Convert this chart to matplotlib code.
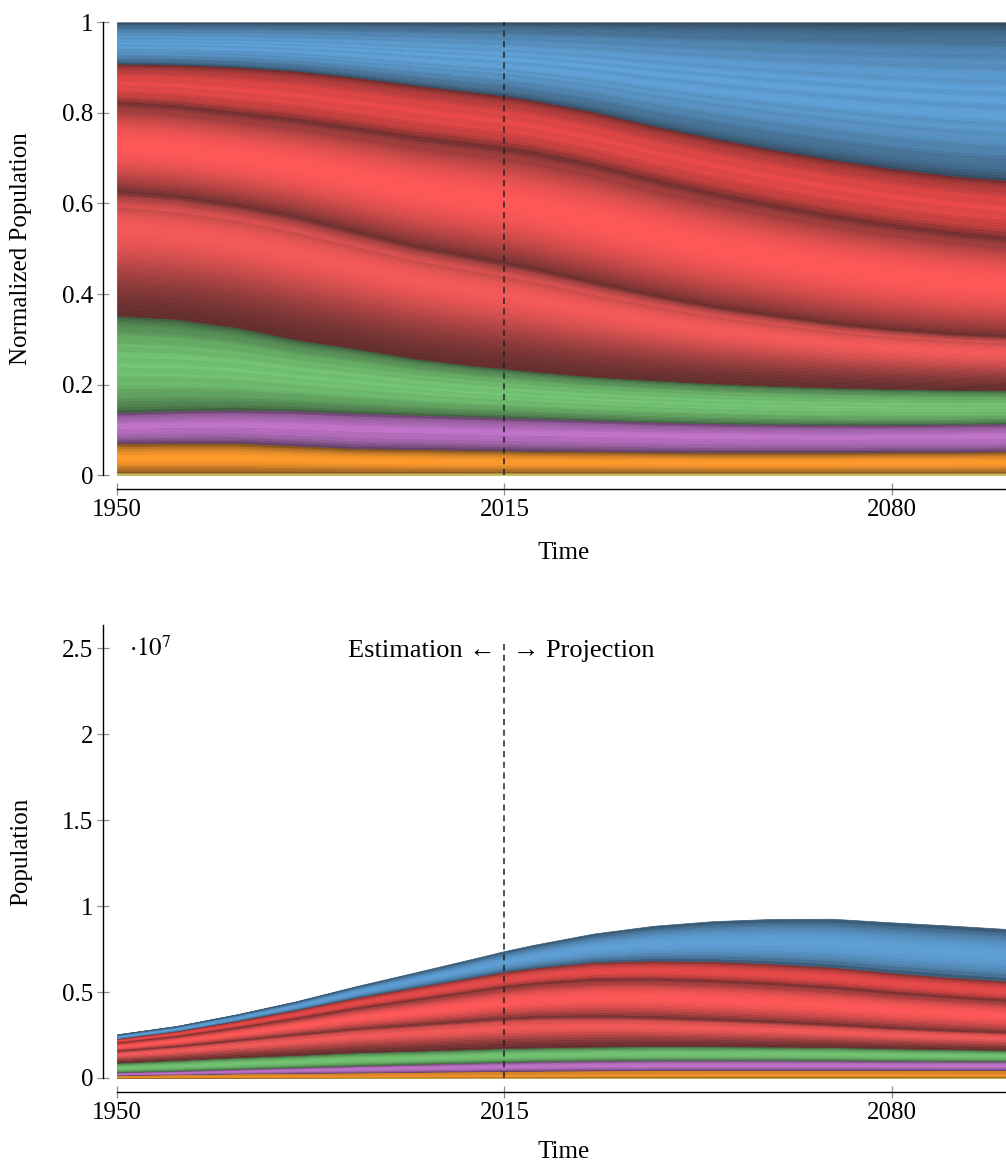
import numpy as np
import matplotlib
matplotlib.use('Agg')
import matplotlib.pyplot as plt
from matplotlib.colors import to_rgb
from matplotlib.ticker import FuncFormatter

plt.rcParams['font.family'] = ['Liberation Serif', 'DejaVu Serif']
plt.rcParams['mathtext.fontset'] = 'stix'

# years
years = np.array([1950, 1960, 1970, 1980, 1990, 2000, 2010, 2015, 2020,
                  2030, 2040, 2050, 2060, 2070, 2080, 2090, 2100])

total_pop = np.array([2540000, 3030000, 3700000, 4460000, 5330000, 6140000,
                      6960000, 7380000, 7750000, 8400000, 8850000, 9120000,
                      9250000, 9260000, 9050000, 8860000, 8650000])

# cumulative region boundaries (normalized), bottom -> top
b_yellow = np.array([0.006, 0.006, 0.006, 0.006, 0.006, 0.006, 0.006, 0.006, 0.006,
                     0.006, 0.006, 0.006, 0.006, 0.006, 0.006, 0.006, 0.006])
b_orange = np.array([0.071, 0.072, 0.072, 0.066, 0.060, 0.058, 0.056, 0.055, 0.054,
                     0.053, 0.052, 0.051, 0.051, 0.051, 0.052, 0.052, 0.053])
b_purple = np.array([0.139, 0.143, 0.145, 0.143, 0.138, 0.134, 0.130, 0.128, 0.126,
                     0.122, 0.118, 0.115, 0.113, 0.112, 0.112, 0.113, 0.115])
b_green = np.array([0.353, 0.345, 0.327, 0.300, 0.280, 0.258, 0.242, 0.236, 0.229,
                    0.218, 0.210, 0.203, 0.198, 0.194, 0.191, 0.189, 0.188])
b_red_b = np.array([0.626, 0.615, 0.596, 0.570, 0.537, 0.505, 0.480, 0.468, 0.455,
                    0.425, 0.397, 0.372, 0.353, 0.335, 0.322, 0.312, 0.306])
b_red_a = np.array([0.823, 0.815, 0.800, 0.785, 0.766, 0.746, 0.730, 0.722, 0.712,
                    0.685, 0.652, 0.622, 0.596, 0.572, 0.552, 0.535, 0.522])
b_red_top = np.array([0.909, 0.907, 0.902, 0.893, 0.879, 0.862, 0.846, 0.838, 0.828,
                      0.803, 0.772, 0.745, 0.720, 0.698, 0.678, 0.662, 0.651])
b_blue = np.ones(len(years))

# shares of the stripes inside each group, bottom -> top
shares_yellow = [1.0]
shares_orange = [0.12, 0.88]
shares_purple = [0.12, 0.1, 0.18, 0.35, 0.25]
shares_green = [0.12, 0.1, 0.14, 0.08, 0.1, 0.12, 0.08, 0.1, 0.16]
shares_red_b = [0.88, 0.05, 0.07]
shares_red_a = [0.92, 0.08]
shares_red_top = [0.08, 0.2, 0.15, 0.18, 0.17, 0.22]
shares_blue = [0.14, 0.06, 0.1, 0.05, 0.12, 0.08, 0.07, 0.1, 0.06, 0.09, 0.13]

# (lower, upper, colour, stripe shares, brightest point of the group)
groups = [
    (np.zeros(len(years)), b_yellow, '#dccf55', shares_yellow, 0.5),
    (b_yellow, b_orange, '#ff9a2a', shares_orange, 0.5),
    (b_orange, b_purple, '#c274cc', shares_purple, 0.55),
    (b_purple, b_green, '#74c874', shares_green, 0.5),
    (b_green, b_red_b, '#ff5a5a', shares_red_b, 0.75),
    (b_red_b, b_red_a, '#ff5656', shares_red_a, 0.55),
    (b_red_a, b_red_top, '#ec4848', shares_red_top, 0.5),
    (b_red_top, b_blue, '#5fa2da', shares_blue, 0.5),
]


def shade(base, s):
    c = np.array(to_rgb(base))
    dark = c * 0.33 + 0.06
    return tuple(dark + (c - dark) * s)


def draw_stack(ax, scale, px_per_unit):
    for lo, hi, col, shares, peak in groups:
        gam = np.log(0.5) / np.log(peak)
        cum = np.concatenate([[0], np.cumsum(shares) / np.sum(shares)])
        for k in range(len(shares)):
            b0 = lo + (hi - lo) * cum[k]
            b1 = lo + (hi - lo) * cum[k + 1]
            thick = np.max((b1 - b0) * scale) * px_per_unit
            nsub = int(np.clip(thick / 2.5, 2, 45))
            for j in range(nsub):
                t0, t1 = j / nsub, (j + 1) / nsub
                ts = (j + 0.5) / nsub
                tg = cum[k] + (cum[k + 1] - cum[k]) * ts
                sg = np.sin(np.pi * tg ** gam) ** 0.6
                ss = np.sin(np.pi * ts) ** 0.3
                c = shade(col, sg * (0.6 + 0.4 * ss))
                ax.fill_between(years, (b0 + (b1 - b0) * t0) * scale,
                                (b0 + (b1 - b0) * t1) * scale,
                                facecolor=c, edgecolor=c, lw=0.5)


def style(ax):
    for side in ['top', 'right']:
        ax.spines[side].set_visible(False)
    for side in ['left', 'bottom']:
        ax.spines[side].set_position(('outward', 10))
        ax.spines[side].set_linewidth(1.0)
    ax.tick_params(direction='inout', length=8, width=0.9, color='#8c8c8c',
                   labelcolor='black', labelsize=18, pad=3)
    ax.set_xlim(1950, 2100)
    ax.set_xticks([1950, 2015, 2080])
    ax.set_xlabel('Time', fontsize=18)
    ax.yaxis.set_label_coords(-0.095, 0.5)


W, H = 1006, 1167
fig = plt.figure(figsize=(W / 100, H / 100), dpi=100)

ax1 = fig.add_axes([117 / W, 1 - 475.3 / H, 894 / W, 453 / H])
draw_stack(ax1, 1.0, 453.0)
style(ax1)
ax1.set_ylim(0, 1)
ax1.set_yticks([0, 0.2, 0.4, 0.6, 0.8, 1.0])
ax1.yaxis.set_major_formatter(FuncFormatter(lambda v, p: f'{v:g}'))
ax1.set_ylabel('Normalized Population', fontsize=18)
ax1.xaxis.set_label_coords(0.5, -0.148)
ax1.axvline(2015, color='#222222', ls=(0, (4, 3)), lw=1.1)

ax2 = fig.add_axes([117 / W, 1 - 1078 / H, 894 / W, 453 / H])
draw_stack(ax2, total_pop, 453.0 / 2.634e7)
style(ax2)
ax2.set_ylim(0, 2.634e7)
ax2.set_yticks([0, 0.5e7, 1e7, 1.5e7, 2e7, 2.5e7])
ax2.yaxis.set_major_formatter(FuncFormatter(lambda v, p: f'{v / 1e7:g}'))
ax2.set_ylabel('Population', fontsize=18)
ax2.xaxis.set_label_coords(0.5, -0.138)
ax2.vlines(2015, 0, 2.547e7, color='#222222', linestyles=(0, (4, 3)), lw=1.1)
ax2.text(2013.5, 2.48e7, 'Estimation \u2190', ha='right', va='center', fontsize=19)
ax2.text(2016.5, 2.48e7, '\u2192 Projection', ha='left', va='center', fontsize=19)
ax2.text(0.013, 0.975, r'$\cdot 10^7$', transform=ax2.transAxes, ha='left',
         va='top', fontsize=18)

fig.savefig('out.png', dpi=100)
